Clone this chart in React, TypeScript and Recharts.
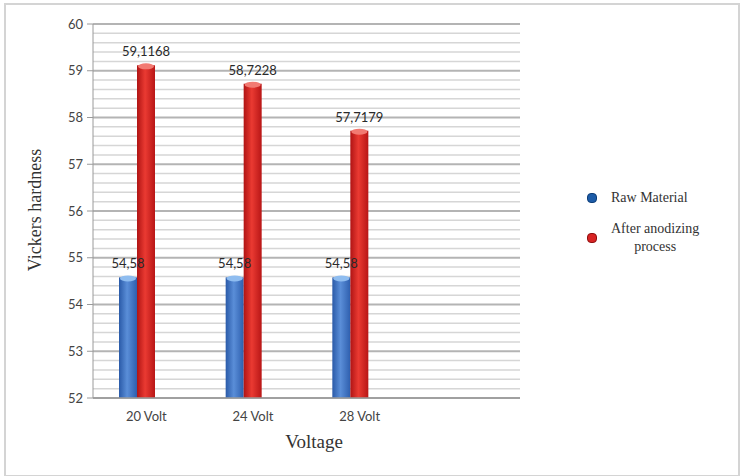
import React from 'react';
import {
  BarChart,
  Bar,
  XAxis,
  YAxis,
  CartesianGrid,
  LabelList,
} from 'recharts';

const categories = ['20 Volt', '24 Volt', '28 Volt'];
const rawMaterial = [54.58, 54.58, 54.58];
const afterAnodizing = [59.1168, 58.7228, 57.7179];

const data = categories.map((name, i) => ({
  name,
  raw: rawMaterial[i],
  anodized: afterAnodizing[i],
}));

// excel style: gridline every 0.2, only the integers get a label
const gridValues: number[] = [];
for (let i = 0; i <= 40; i++) gridValues.push(Math.round((52 + i * 0.2) * 10) / 10);

const TICK_SIZE = 6;
const TICK_MARGIN = 4;

const commaFmt = (v: any) => String(v).replace('.', ',');

const GridLine = (props: any) => {
  const { x1, x2, y1, y2, index } = props;
  const major = index % 5 === 0;
  return (
    <line
      x1={x1}
      x2={x2}
      y1={y1}
      y2={y2}
      stroke={major ? '#b4b4b4' : '#d6d6d6'}
      strokeWidth={major ? 1.8 : 1.5}
    />
  );
};

const YTick = (props: any) => {
  const { x, y, payload } = props;
  if (!Number.isInteger(payload.value)) return <g />;
  const ax = x + TICK_MARGIN;
  return (
    <g>
      <line x1={ax} x2={ax + TICK_SIZE} y1={y} y2={y} stroke="#9a9a9a" />
      <text x={x} y={y} dy={4.5} textAnchor="end" fill="#444" fontSize={13} fontFamily="Lato, sans-serif">
        {payload.value}
      </text>
    </g>
  );
};

const Cylinder = (color: { id: string; cap: string }) => (props: any) => {
  const { x, y, width, height } = props;
  if (height == null || height <= 0) return null;
  return (
    <g>
      <rect x={x} y={y} width={width} height={height} fill={`url(#${color.id})`} />
      <ellipse cx={x + width / 2} cy={y + 1} rx={width / 2 - 1} ry={3} fill={color.cap} />
    </g>
  );
};

const LegendBox = () => (
  <div
    style={{
      position: 'absolute',
      left: 587,
      top: 190,
      width: 140,
      fontFamily: '"Liberation Serif", serif',
      fontSize: 14,
      color: '#333',
    }}
  >
    <div style={{ display: 'flex', alignItems: 'center', marginBottom: 14 }}>
      <span style={{ width: 8, height: 8, borderRadius: 4, background: '#1d5ca8', border: '1px solid #0e3e78', marginRight: 14 }} />
      <span>Raw Material</span>
    </div>
    <div style={{ display: 'flex', alignItems: 'center' }}>
      <span style={{ width: 8, height: 8, borderRadius: 4, background: '#d82424', border: '1px solid #8e1010', marginRight: 14 }} />
      <span style={{ textAlign: 'center', lineHeight: '18px' }}>After anodizing<br />process</span>
    </div>
  </div>
);

const tickStyle = { fill: '#444', fontSize: 13, fontFamily: 'Lato, sans-serif' };
const labelStyle = { fill: '#2a2a2a', fontSize: 13, fontFamily: 'Lato, sans-serif' };

export default function App() {
  return (
    <div style={{ position: 'absolute', left: 0, top: 0, width: 740, height: 476, background: '#fff' }}>
      <div style={{ position: 'absolute', left: 4, top: 3, width: 732, height: 470, border: '2px solid #d4d4d4' }} />
      <BarChart
        width={740}
        height={476}
        data={data}
        margin={{ top: 24, right: 220, left: 53, bottom: 48 }}
        barGap={0}
        barSize={18}
      >
        <defs>
          <linearGradient id="gBlue" x1="0" y1="0" x2="1" y2="0">
            <stop offset="0%" stopColor="#2a5aa8" />
            <stop offset="45%" stopColor="#5a8ed8" />
            <stop offset="100%" stopColor="#2e5fae" />
          </linearGradient>
          <linearGradient id="gRed" x1="0" y1="0" x2="1" y2="0">
            <stop offset="0%" stopColor="#b01414" />
            <stop offset="45%" stopColor="#ea3a32" />
            <stop offset="100%" stopColor="#b81616" />
          </linearGradient>
        </defs>
        <CartesianGrid vertical={false} horizontal={GridLine} />
        <XAxis
          dataKey="name"
          padding={{ left: 0, right: 107 }}
          axisLine={{ stroke: '#9a9a9a', strokeWidth: 1.5 }}
          tickLine={false}
          tickSize={6}
          tickMargin={8}
          height={30}
          tick={tickStyle}
        />
        <YAxis
          domain={[52, 60]}
          ticks={gridValues}
          interval={0}
          width={40}
          axisLine={{ stroke: '#9a9a9a' }}
          tickLine={false}
          tickSize={TICK_SIZE}
          tickMargin={TICK_MARGIN}
          tick={<YTick />}
        />
        <Bar dataKey="raw" name="Raw Material" isAnimationActive={false} shape={Cylinder({ id: 'gBlue', cap: '#8fbdf0' })}>
          <LabelList dataKey="raw" position="top" offset={9} formatter={commaFmt} style={labelStyle} />
        </Bar>
        <Bar dataKey="anodized" name="After anodizing process" isAnimationActive={false} shape={Cylinder({ id: 'gRed', cap: '#f27a72' })}>
          <LabelList dataKey="anodized" position="top" offset={9} formatter={commaFmt} style={labelStyle} />
        </Bar>
        {/* empty third slot, the source chart keeps space for it */}
        <Bar dataKey="unused" isAnimationActive={false} legendType="none" />
      </BarChart>
      <LegendBox />
      <div
        style={{
          position: 'absolute',
          left: 35,
          top: 210,
          transform: 'translate(-50%, -50%) rotate(-90deg)',
          whiteSpace: 'nowrap',
          fontFamily: '"Liberation Serif", serif',
          fontSize: 18,
          color: '#333',
        }}
      >
        Vickers hardness
      </div>
      <div
        style={{
          position: 'absolute',
          left: 314,
          top: 442,
          transform: 'translate(-50%, -50%)',
          fontFamily: '"Liberation Serif", serif',
          fontSize: 19,
          color: '#333',
        }}
      >
        Voltage
      </div>
    </div>
  );
}
